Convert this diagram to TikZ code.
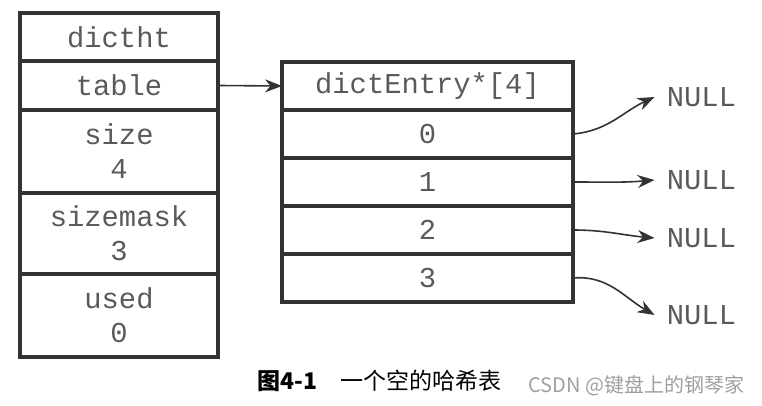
\documentclass[tikz,border=0pt]{standalone}
\usepackage{fontspec}
\setmonofont{Liberation Mono}
\newfontfamily\cjk{Noto Sans CJK SC}
\usetikzlibrary{arrows.meta,positioning}
\definecolor{inkline}{HTML}{333333}
\definecolor{inktext}{HTML}{5a5a5a}
\tikzset{
	cell/.style = {draw=inkline, line width=1.6pt, rectangle, outer sep=0pt, inner sep=0pt,
		minimum width=99pt, text=inktext, align=center,
		font=\ttfamily\fontsize{14.4}{17}\selectfont},
	slot/.style = {cell, minimum width=145.5pt, minimum height=24pt},
	nullnode/.style = {text=inktext, inner sep=6pt, font=\ttfamily\fontsize{14.4}{17}\selectfont},
	ptr/.style = {draw=inkline, line width=0.8pt, -{Stealth[length=8.5pt,width=6.5pt]}}
}

\begin{document}
\begin{tikzpicture}[x=0.5pt,y=-0.5pt]
	\useasboundingbox (0,0) rectangle (762,406);
	% dictht
	\node[cell, minimum height=24pt] (dictht) at (119,37) {dictht};
	\node[cell, minimum height=24.5pt, below=0pt of dictht] (table) {table};
	\node[cell, minimum height=41.5pt, below=0pt of table] (size) {size\\4};
	\node[cell, minimum height=40.5pt, below=0pt of size] (sizemask) {sizemask\\3};
	\node[cell, minimum height=41.5pt, below=0pt of sizemask] (used) {used\\0};
	% dictEntry array
	\node[slot] (entry) at (427.5,86) {dictEntry*[4]};
	\node[slot, below=0pt of entry] (s0) {0};
	\node[slot, below=0pt of s0] (s1) {1};
	\node[slot, below=0pt of s1] (s2) {2};
	\node[slot, below=0pt of s2] (s3) {3};
	% NULL
	\node[nullnode] (null0) at (701.5,97) {NULL};
	\node[nullnode] (null1) at (701.5,180) {NULL};
	\node[nullnode] (null2) at (701.5,238) {NULL};
	\node[nullnode] (null3) at (701.5,315) {NULL};
	\draw[ptr] (table.east) -- (entry.west);
	\draw[ptr] (s0.east) to [out=5,in=205] (null0.west);
	\draw[ptr] (s1.east) to [out=0,in=185] (null1.west);
	\draw[ptr] (s2.east) to [out=0,in=175] (null2.west);
	\draw[ptr] (s3.east) to [out=5,in=150] (null3.west);
	% caption
	\node[anchor=west, inner sep=0pt, font=\cjk\fontsize{11.5}{14}\selectfont] (caption) at (257,381)
		{{\bfseries 图4-1}\quad 一个空的哈希表};
	\node[anchor=west, inner sep=0pt, text=gray!75, font=\cjk\fontsize{10}{12}\selectfont] (mark) at (528,386)
		{CSDN @键盘上的钢琴家};
\end{tikzpicture}
\end{document}
